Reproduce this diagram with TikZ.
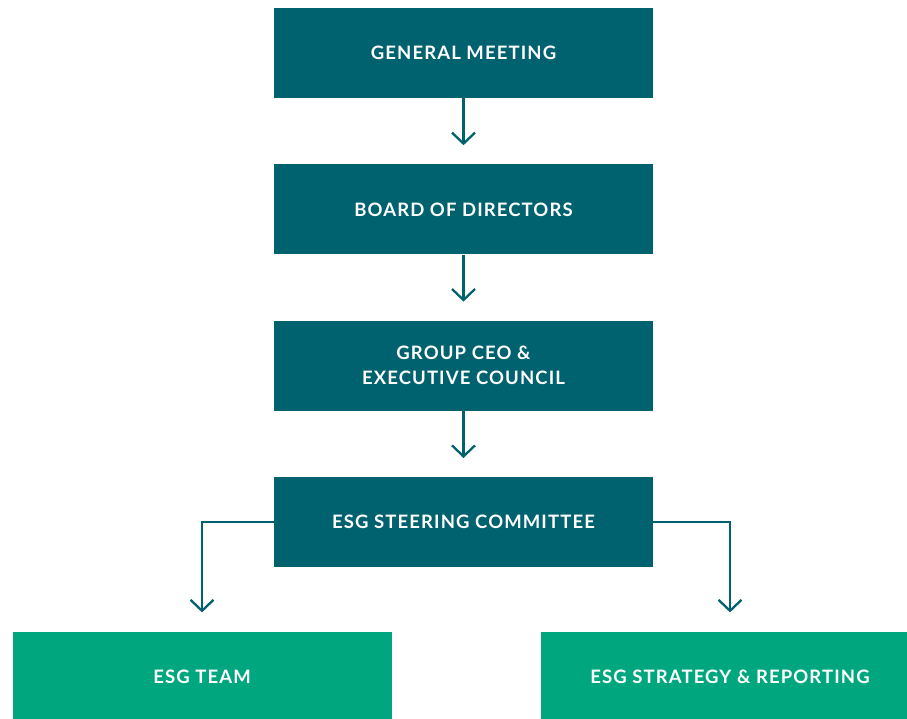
\documentclass[tikz,border=0pt]{standalone}
\usepackage{fontspec}
\newfontfamily\boxfont{Lato}[LetterSpace=6]
\usetikzlibrary{positioning, arrows.meta}
\definecolor{boardteal}{HTML}{00616F}
\definecolor{esggreen}{HTML}{00A77E}

\begin{document}
\begin{tikzpicture}[x=1pt, y=1pt, node distance=66pt,
    box/.style={fill=boardteal, text=white, minimum width=379pt, minimum height=90pt,
        align=center, font=\boxfont\bfseries\fontsize{18.5}{25}\selectfont},
    subbox/.style={box, fill=esggreen},
    link/.style={draw=boardteal, line width=2.3pt, -{Straight Barb[length=11pt,width=23pt]}, shorten >=19pt}]
    \useasboundingbox (0,0) rectangle (907,-719);

    \node (meeting) [box] at (463.5,-53) {GENERAL MEETING};

    \node (board) [box, below=of meeting] {BOARD OF DIRECTORS};

    \node (ceo) [box, below=of board] {GROUP CEO \&\\EXECUTIVE COUNCIL};

    \node (steering) [box, below=of ceo] {ESG STEERING COMMITTEE};

    \node (team) [subbox, below=64pt of steering, xshift=-261.5pt] {ESG TEAM};

    \node (strategy) [subbox, below=64pt of steering, xshift=266.5pt] {ESG STRATEGY \& REPORTING};

    % Drawing the links between the boxes
    \draw[link] (meeting) -- (board);
    \draw[link] (board) -- (ceo);
    \draw[link] (ceo) -- (steering);
    \draw[link] (steering.west) -| (team);
    \draw[link] (steering.east) -| (strategy);
\end{tikzpicture}
\end{document}
